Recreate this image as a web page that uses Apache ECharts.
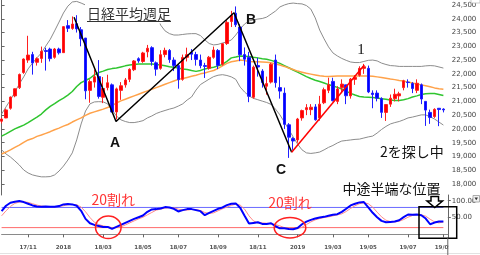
<!DOCTYPE html>
<html><head><meta charset="utf-8">
<script src="https://cdn.jsdelivr.net/npm/echarts@6/dist/echarts.min.js"></script>
<style>html,body{margin:0;padding:0;background:#fff}#c{width:480px;height:255px}</style>
</head><body><div id="c"></div>
<script>
const weeks = [
'17/09/25','17/10/02','17/10/09','17/10/16','17/10/23','17/10/30','17/11/06','17/11/13','17/11/20','17/11/27',
'17/12/04','17/12/11','17/12/18','17/12/25','18/01/01','18/01/08','18/01/15','18/01/22','18/01/29','18/02/05',
'18/02/12','18/02/19','18/02/26','18/03/05','18/03/12','18/03/19','18/03/26','18/04/02','18/04/09','18/04/16',
'18/04/23','18/04/30','18/05/07','18/05/14','18/05/21','18/05/28','18/06/04','18/06/11','18/06/18','18/06/25',
'18/07/02','18/07/09','18/07/16','18/07/23','18/07/30','18/08/06','18/08/13','18/08/20','18/08/27','18/09/03',
'18/09/10','18/09/17','18/09/24','18/10/01','18/10/08','18/10/15','18/10/22','18/10/29','18/11/05','18/11/12',
'18/11/19','18/11/26','18/12/03','18/12/10','18/12/17','18/12/24','18/12/31','19/01/07','19/01/14','19/01/21',
'19/01/28','19/02/04','19/02/11','19/02/18','19/02/25','19/03/04','19/03/11','19/03/18','19/03/25','19/04/01',
'19/04/08','19/04/15','19/04/22','19/05/07','19/05/13','19/05/20','19/05/27','19/06/03','19/06/10','19/06/17',
'19/06/24','19/07/01','19/07/08','19/07/15','19/07/22','19/07/29','19/08/05','19/08/12','19/08/19','19/08/26',
'19/09/02','19/09/09'];

// [open, close, low, high]
const ohlc = [
[20280,20356,20200,20400],[20400,20690,20390,20740],[20750,21155,20700,21180],[21200,21457,21150,21470],[21500,21977,21450,22012],
[22050,22539,22000,22560],[22500,22681,22400,23382],[22700,22397,21972,22800],[22420,22550,22300,22600],[22560,22819,22400,22990],
[22850,22811,22119,22950],[22900,22553,22450,22950],[22600,22902,22550,22940],[22900,22765,22700,22950],[22770,23714,22765,23730],
[23750,23653,23520,23952],[23650,23808,23600,24084],[23820,23631,23500,24129],[23600,23274,23000,23700],[23300,21383,21078,23300],
[21400,21720,20950,21800],[21700,21892,21500,22150],[21900,21181,21100,22500],[21150,21469,20937,21884],[21500,21676,21400,21968],
[21600,20617,20600,21650],[20617,21454,20347,21500],[21400,21567,21056,21700],[21600,21778,21500,21850],[21800,22162,21700,22200],
[22150,22467,22100,22500],[22550,22472,22400,22600],[22450,22758,22400,22800],[22800,22930,22600,23050],[22950,22450,22300,23002],
[22400,22171,21931,22450],[22200,22694,22150,22860],[22700,22851,22600,22950],[22850,22516,22400,22900],[22500,22304,22100,22600],
[22300,21788,21462,22350],[21800,22597,21750,22700],[22600,22697,22450,22950],[22780,22712,22500,22900],[22700,22525,22300,22800],
[22500,22298,22200,22700],[22300,22270,21851,22400],[22200,22601,22150,22650],[22600,22865,22550,22990],[22850,22307,22173,22900],
[22350,23094,22300,23100],[23100,23869,23050,23940],[23900,24120,23700,24286],[24200,23783,23700,24448],[23700,22694,22460,23800],
[22700,22532,22300,22960],[22600,21184,20971,22800],[21150,22243,21100,22300],[22300,22250,21900,22583],[22100,21680,21500,22170],
[21550,21646,21243,21900],[21700,22351,21650,22400],[22500,21679,21500,22700],[21500,21374,21100,21900],[21300,20166,20000,21500],
[20150,19700,18948,20211],[19650,19561,19241,19700],[19600,20359,19500,20400],[20400,20666,20300,20700],[20700,20773,20500,20900],
[20700,20788,20500,20900],[20800,20333,20300,20900],[20400,20900,20300,21200],[20950,21425,20900,21500],[21400,21602,21300,21860],
[21726,21025,21000,21860],[21000,21450,20900,21550],[21500,21627,21300,21800],[21600,21205,20900,21600],[21200,21807,21100,21850],
[21800,21870,21600,21950],[21950,22200,21900,22277],[22200,22258,22000,22362],[22200,21344,21300,22300],[21300,21250,20751,21400],
[21300,21117,21000,21400],[21100,20601,20400,21150],[20600,20884,20289,20900],[20900,21116,20800,21250],[21100,21258,21000,21460],
[21200,21275,21000,21350],[21500,21746,21400,21784],[21700,21685,21500,21800],[21650,21466,21300,21700],[21400,21658,21300,21800],
[21600,21087,20900,21650],[21000,20684,20110,21000],[20600,20418,20184,20700],[20450,20710,20400,20750],[20750,20704,20100,20750],
[20720,20690,20600,20750]];

const bbUpper = [20540,20800,21050,21340,21630,21890,22180,22390,22580,22760,
 23010,23250,23560,23880,24210,24460,24610,24630,24570,24500,
 24450,24410,24390,24370,24350,24340,24320,24300,24280,24280,
 24260,24250,24250,24230,24230,24210,23770,23560,23460,23410,
 23410,23430,23450,23460,23460,23390,23230,23100,23050,23070,
 23120,23160,23230,23410,23630,23810,23920,23960,23990,24010,
 24060,24170,24280,24430,24500,24550,24570,24550,24540,24480,
 24350,24030,23590,23270,22980,22760,22650,22560,22490,22430,
 22410,22410,22450,22490,22500,22470,22390,22340,22300,22290,
 22270,22270,22270,22270,22270,22270,22290,22300,22290,22250,
 22210];
const bbLower = [19240,19090,18980,18840,18690,18510,18400,18330,18290,18260,
 18260,18270,18330,18470,18650,18870,19130,19600,20180,20650,
 20910,20980,20990,20980,20910,20690,20470,20330,20270,20230,
 20230,20260,20300,20400,20470,20560,20620,20670,20720,20760,
 20830,20910,21050,21160,21410,21610,21710,21810,21900,21950,
 21970,21940,21890,21800,21520,21340,21200,21110,21060,21010,
 20960,20890,20720,20510,20250,19980,19710,19450,19240,19130,
 19110,19130,19160,19240,19330,19400,19490,19560,19580,19600,
 19620,19630,19670,19710,19740,19850,19980,20090,20180,20230,
 20270,20330,20400,20430,20470,20510,20510,20440,20360,20250,
 20140];
const maGreen = [19740,19820,19910,20000,20070,20140,20230,20330,20430,20540,
 20690,20820,20920,21030,21120,21230,21360,21540,21680,21760,
 21840,21960,22050,22100,22160,22190,22210,22250,22290,22320,
 22340,22360,22360,22360,22360,22340,22320,22290,22260,22240,
 22210,22180,22160,22120,22090,22120,22180,22210,22240,22290,
 22340,22450,22580,22610,22650,22640,22630,22600,22580,22550,
 22530,22490,22440,22380,22300,22220,22140,22060,21980,21900,
 21830,21770,21720,21670,21610,21560,21510,21450,21370,21290,
 21230,21180,21160,21150,21140,21120,21100,21080,21050,21030,
 21030,21060,21100,21160,21200,21250,21280,21290,21290,21250,
 21210];
const maOrange = [19090,19160,19240,19330,19410,19510,19600,19650,19730,19780,
 19840,19900,19970,20030,20100,20160,20250,20330,20400,20490,
 20570,20620,20670,20720,20780,20850,20940,21020,21080,21140,
 21200,21260,21320,21380,21440,21500,21560,21620,21680,21740,
 21800,21830,21870,21910,21950,22000,22030,22080,22120,22200,
 22290,22380,22440,22470,22500,22480,22450,22440,22440,22430,
 22420,22400,22360,22320,22270,22210,22160,22100,22060,22020,
 21990,21960,21930,21910,21900,21910,21920,21920,21920,21920,
 21920,21920,21920,21920,21910,21890,21870,21840,21810,21790,
 21760,21740,21700,21670,21630,21600,21570,21530,21490,21460,
 21440];
const stochK = [69,85,94,97,99,96,91,86,83,82,
 83,82,82,84,89,90,89,85,70,46,
 33,28,25,22,22,16,22,28,34,40,
 46,51,56,67,74,75,77,81,80,76,
 68,72,75,75,72,69,57,64,70,76,
 80,87,91,92,79,55,32,34,36,31,
 31,33,24,18,18,16,15,19,30,38,
 43,47,50,52,55,58,60,67,76,86,
 91,95,96,80,64,51,40,36,37,38,
 42,51,59,58,59,57,47,30,35,38,
 38];
const stochD = [55,70,83,92,96,97,95,91,87,84,
 83,82,82,83,85,88,89,88,81,67,
 50,36,29,25,23,20,20,22,28,34,
 40,46,51,58,65,72,75,78,79,79,
 75,72,72,74,74,71,65,62,64,70,
 76,81,86,90,87,75,55,40,34,34,
 33,32,29,25,20,18,17,17,21,29,
 37,43,47,50,52,55,58,61,68,77,
 85,91,94,91,81,66,52,42,38,37,
 39,44,51,56,59,58,54,45,37,34,
 37];
// zigzag vertices: [week position, price]
const zigzagBlack = [[16.4,24053],[25.9,20270],[52.6,24220],[65.66,19151]];
const zigzagRed = [[65.66,19151],[82.1,22321]];
const priceTicks = [18000,18500,19000,19500,20000,20500,21000,21500,22000,22500,23000,23500,24000,24500];
const oscTicks = [50,100];
const oscLevels = [80,20];
const xTickIdx = [6,14,23,32,40,49,58,67,75,83,92,100];
const xTickText = ['17/11','2018','18/03','18/05','18/07','18/09','18/11','2019','19/03','19/05','19/07','19/09'];

const tickSet = new Set(xTickIdx);
const labelOf = {}; xTickIdx.forEach((k,j)=>{labelOf[k]=xTickText[j];});
const lastIdx = ohlc.length - 1;
const L = 1.6, W = 446.2;
const jp = '"Noto Sans CJK JP"';

const chart = echarts.init(document.getElementById('c'), null, {renderer:'canvas'});
const lineS = (name, data, color, width, xi, yi, z) => ({
  name, type:'line', data, xAxisIndex:xi, yAxisIndex:yi, symbol:'none', z: z||2,
  lineStyle:{color, width}, emphasis:{disabled:true}, silent:true
});
const txt = (text, x, y, font, fill, align, extra) => ({
  type:'text', x, y, z:100,
  style:Object.assign({text, font, fill, align: align||'left', verticalAlign:'middle', textAlign: align||'left', textVerticalAlign:'middle'}, extra||{})
});
chart.setOption({
  animation:false,
  backgroundColor:'#fff',
  grid:[{left:L, top:0, width:W, height:195},{left:L, top:195, width:W, height:42.7}],
  xAxis:[
    {type:'category', gridIndex:0, data:weeks, boundaryGap:false, show:false},
    {type:'value', gridIndex:0, min:0, max:weeks.length-1, show:false},
    {type:'category', gridIndex:1, data:weeks, boundaryGap:false,
      axisLine:{show:true, lineStyle:{color:'#8a8a8a', width:1}},
      axisTick:{show:true, interval:(i)=>tickSet.has(i), length:3, lineStyle:{color:'#666'}},
      axisLabel:{interval:(i)=>tickSet.has(i), formatter:(v,i)=>labelOf[i]||'', fontSize:5.5, fontWeight:'bold', color:'#555', margin:6.5, fontFamily:'DejaVu Sans'},
      splitLine:{show:false}}
  ],
  yAxis:[
    {type:'value', gridIndex:0, position:'right', min:17600.6, max:24681.6, scale:true,
      axisLine:{show:true, lineStyle:{color:'#666'}}, splitLine:{show:false},
      axisTick:{show:true, length:3, customValues:priceTicks, lineStyle:{color:'#666'}},
      axisLabel:{customValues:priceTicks, formatter:v=>Number(v).toLocaleString('en-US'), fontSize:7, color:'#444', margin:4, fontFamily:'DejaVu Sans'}},
    {type:'value', gridIndex:1, position:'right', min:-10, max:117,
      axisLine:{show:true, lineStyle:{color:'#666'}}, splitLine:{show:false},
      axisTick:{show:true, length:3, customValues:oscTicks, lineStyle:{color:'#666'}},
      axisLabel:{customValues:oscTicks, formatter:v=>Number(v).toFixed(2), fontSize:7, color:'#444', margin:4, fontFamily:'DejaVu Sans'}}
  ],
  series:[
    lineS('upper', bbUpper, '#8c8c8c', 1, 0, 0),
    lineS('lower', bbLower, '#8c8c8c', 1, 0, 0),
    lineS('ma1', maGreen, '#2fc52f', 1.5, 0, 0),
    lineS('ma2', maOrange, '#ffa24a', 1.5, 0, 0),
    {name:'weekly', type:'candlestick', data:ohlc, xAxisIndex:0, yAxisIndex:0, barWidth:3, z:3,
      itemStyle:{color:'#ff0000', color0:'#0000ff', borderColor:'#ff2020', borderColor0:'#2020ff', borderWidth:1}, silent:true},
    lineS('zigzag', zigzagBlack, '#000000', 1.5, 1, 0, 5),
    lineS('zigzag2', zigzagRed, '#ff0000', 1.5, 1, 0, 5),
    lineS('lvl80', [[0,oscLevels[0]],[lastIdx,oscLevels[0]]], '#6a6aff', 1, 2, 1),
    lineS('lvl20', [[0,oscLevels[1]],[lastIdx,oscLevels[1]]], '#ff6a6a', 1, 2, 1),
    lineS('%D', stochD, '#ff8a8a', 1, 2, 1, 3),
    lineS('%K', stochK, '#0000ff', 2, 2, 1, 4)
  ],
  graphic:{elements:[
    {type:'rect', z:99, shape:{x:85, y:3.5, width:88, height:20}, style:{fill:'#fff'}},
    txt('日経平均週足', 87, 14, '14px '+jp, '#333'),
    {type:'line', z:100, shape:{x1:87, y1:21.5, x2:171, y2:21.5}, style:{stroke:'#333', lineWidth:1}},
    txt('A', 115, 143.5, 'bold 14px "Liberation Sans"', '#111', 'center'),
    txt('B', 251, 20, 'bold 14px "Liberation Sans"', '#111', 'center'),
    txt('C', 281, 170, 'bold 14px "Liberation Sans"', '#111', 'center'),
    txt('1', 361, 50, '15px "Liberation Serif"', '#111', 'center'),
    txt('2を探し中', 380, 152, '14px '+jp, '#111'),
    txt('中途半端な位置', 342.5, 189, '14px '+jp, '#111'),
    txt('20割れ', 91.5, 200, '14px '+jp, '#ff3535'),
    txt('20割れ', 268.3, 203, '14px '+jp, '#ff3535'),
    {type:'ellipse', z:100, shape:{cx:108.3, cy:227.3, rx:12.8, ry:11.2}, style:{fill:'transparent', stroke:'#ff2020', lineWidth:1.5}},
    {type:'ellipse', z:100, shape:{cx:290, cy:227.7, rx:15.8, ry:10.2}, style:{fill:'transparent', stroke:'#ff2020', lineWidth:1.5}},
    {type:'rect', z:100, shape:{x:419, y:206.7, width:37.7, height:31.6}, style:{fill:'transparent', stroke:'#000', lineWidth:1.5}},
    {type:'polygon', z:101, shape:{points:[[431,196.5],[438.5,196.5],[438.5,201],[442.5,201],[434.75,207.5],[427,201],[431,201]]}, style:{fill:'#fff', stroke:'#000', lineWidth:1.5}},
    {type:'rect', z:99, shape:{x:448.6, y:239, width:22, height:14}, style:{fill:'#fff'}},
    {type:'line', z:100, shape:{x1:447.8, y1:237, x2:447.8, y2:255}, style:{stroke:'#666', lineWidth:1}},
    {type:'line', z:98, shape:{x1:0, y1:253.5, x2:480, y2:253.5}, style:{stroke:'#e2e2e2', lineWidth:1}},
    {type:'rect', z:100, shape:{x:473, y:195.5, width:6.5, height:6.5}, style:{fill:'#f2f2f2', stroke:'#999', lineWidth:0.8}},
    {type:'polygon', z:101, shape:{points:[[474.5,197.5],[478,197.5],[476.25,200.2]]}, style:{fill:'#333'}},
    {type:'rect', z:100, shape:{x:471, y:-2, width:9, height:5}, style:{fill:'#fff', stroke:'#bbb', lineWidth:0.8}}
  ]}
});
</script>
</body></html>
